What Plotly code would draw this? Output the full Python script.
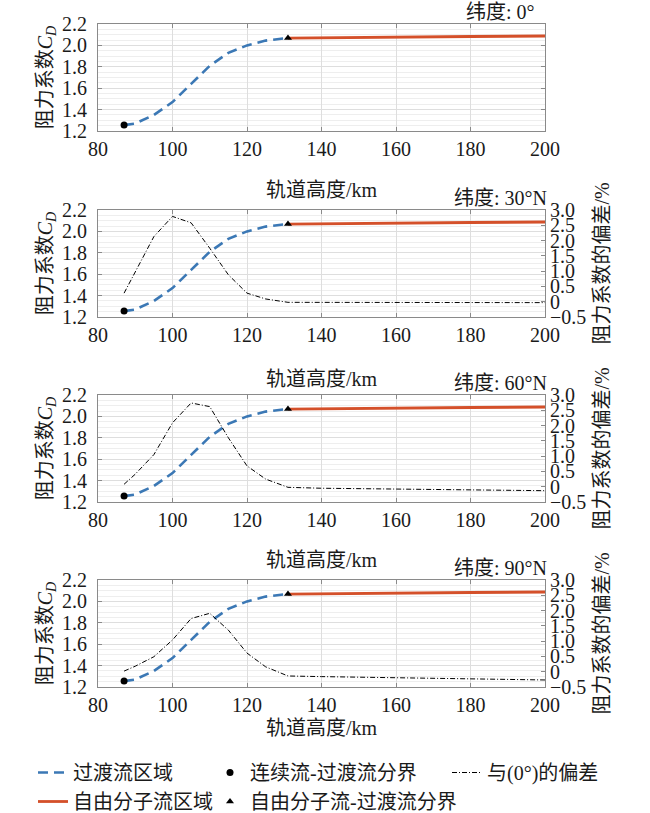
import plotly.graph_objects as go

# altitude grid (km) and drag coefficient
alt_trans = [87, 90, 95, 100, 105, 110, 115, 120, 125, 131]
cd_trans = [1.255, 1.27, 1.35, 1.47, 1.64, 1.81, 1.93, 2.00, 2.045, 2.07]

alt_free = [131, 140, 160, 180, 200]
cd_free = [2.068, 2.072, 2.078, 2.083, 2.088]

# boundary points
alt_cont_bound = [87]
cd_cont_bound = [1.255]
alt_free_bound = [131]
cd_free_bound = [2.07]

# deviation from 0 deg latitude (%)
alt_dev = [87, 90, 95, 100, 105, 110, 115, 120, 125, 131, 140, 160, 180, 200]
dev_30 = [0.28, 0.97, 2.13, 2.79, 2.58, 1.75, 0.88, 0.28, 0.09, -0.02, -0.02, -0.03, -0.03, -0.03]
dev_60 = [0.08, 0.41, 1.05, 2.09, 2.74, 2.62, 1.60, 0.68, 0.25, -0.02, -0.05, -0.08, -0.11, -0.13]
dev_90 = [0.02, 0.18, 0.49, 1.04, 1.74, 1.91, 1.36, 0.61, 0.16, -0.14, -0.16, -0.20, -0.24, -0.27]

lat_labels = ["纬度: 0°", "纬度: 30°N", "纬度: 60°N", "纬度: 90°N"]
devs = [None, dev_30, dev_60, dev_90]

x_ticks = [80, 100, 120, 140, 160, 180, 200]
right_ticks = [-0.5, 0, 0.5, 1.0, 1.5, 2.0, 2.5, 3.0]
right_ticktext = ["\u22120.5", "0", "0.5", "1.0", "1.5", "2.0", "2.5", "3.0"]

W, H = 650, 813
# plot area in pixels
PL, PR, PT, PB = 98, 545, 24, 687
panel_top = [24, 210, 395, 580]
panel_h = 107
xlabel_y = [190, 379, 560, 728]

FONT = "Liberation Serif, Noto Sans CJK SC, serif"
BLUE = "#3b78b5"
RED = "#d4502a"
AXC = "#8a8a8a"


def fx(p):
    return (p - PL) / (PR - PL)


def fy(p):
    return (PB - p) / (PB - PT)


fig = go.Figure()
layout = {}
annotations = []

for k in range(4):
    n = k + 1
    xs = "" if n == 1 else str(n)
    dom_y = [fy(panel_top[k] + panel_h), fy(panel_top[k])]

    fig.add_trace(go.Scatter(x=alt_trans, y=cd_trans, mode="lines", xaxis="x" + xs, yaxis="y" + xs,
                             line=dict(color=BLUE, width=2.6, dash="10px,6px"),
                             name="过渡流区域", legend="legend", showlegend=(k == 0)))
    fig.add_trace(go.Scatter(x=alt_free, y=cd_free, mode="lines", xaxis="x" + xs, yaxis="y" + xs,
                             line=dict(color=RED, width=2.8),
                             name="自由分子流区域", legend="legend", showlegend=(k == 0)))
    fig.add_trace(go.Scatter(x=alt_cont_bound, y=cd_cont_bound, mode="markers", xaxis="x" + xs, yaxis="y" + xs,
                             marker=dict(color="black", size=7, symbol="circle"),
                             name="连续流-过渡流分界", legend="legend2", showlegend=(k == 0)))
    fig.add_trace(go.Scatter(x=alt_free_bound, y=cd_free_bound, mode="markers", xaxis="x" + xs, yaxis="y" + xs,
                             marker=dict(color="black", size=7, symbol="triangle-up"),
                             name="自由分子流-过渡流分界", legend="legend2", showlegend=(k == 0)))

    layout["xaxis" + xs] = dict(domain=[0, 1], anchor="y" + xs, range=[80, 200],
                                tickvals=x_ticks, ticks="inside", ticklen=4, tickcolor=AXC,
                                showline=True, linecolor=AXC, linewidth=1, mirror="ticks",
                                showgrid=True, gridcolor="#dedede", zeroline=False,
                                automargin=False, tickfont=dict(size=20, family=FONT))
    layout["yaxis" + xs] = dict(domain=dom_y, anchor="x" + xs, range=[1.2, 2.2], dtick=0.2,
                                tickformat=".1f", ticks="inside", ticklen=4, tickcolor=AXC,
                                showline=True, linecolor=AXC, linewidth=1,
                                mirror="ticks" if k == 0 else False,
                                showgrid=True, gridcolor="#dedede", zeroline=False,
                                minor=dict(dtick=0.05, showgrid=True, gridcolor="#eeeeee", ticks=""),
                                ticklabelstandoff=6, automargin=False,
                                title=dict(text="阻力系数<i>C<sub>D</sub></i>", standoff=4,
                                           font=dict(size=20, family=FONT)),
                                tickfont=dict(size=20, family=FONT))

    if devs[k] is not None:
        ry = "y" + str(n + 3)
        fig.add_trace(go.Scatter(x=alt_dev, y=devs[k], mode="lines", xaxis="x" + xs, yaxis=ry,
                                 line=dict(color="black", width=1, dash="5px,2px,1px,2px"),
                                 name="与(0°)的偏差", legend="legend3", showlegend=(k == 1)))
        layout["yaxis" + str(n + 3)] = dict(overlaying="y" + xs, side="right", anchor="x" + xs,
                                            range=[-0.5, 3.0], tickvals=right_ticks, ticktext=right_ticktext,
                                            ticks="inside", ticklen=4, tickcolor=AXC,
                                            showline=True, linecolor=AXC, linewidth=1,
                                            showgrid=False, zeroline=False, automargin=False,
                                            title=dict(text="阻力系数的偏差/%", standoff=9,
                                                       font=dict(size=20, family=FONT)),
                                            tickfont=dict(size=20, family=FONT))

    annotations.append(dict(text=lat_labels[k], x=fx(500), y=fy(panel_top[k] - 12),
                            xref="paper", yref="paper", xanchor="center", yanchor="middle",
                            showarrow=False, font=dict(size=20, family=FONT)))
    annotations.append(dict(text="轨道高度/km", x=fx((PL + PR) / 2), y=fy(xlabel_y[k]),
                            xref="paper", yref="paper", xanchor="center", yanchor="middle",
                            showarrow=False, font=dict(size=20, family=FONT)))

leg_common = dict(orientation="v", bgcolor="rgba(0,0,0,0)", font=dict(size=20, family=FONT),
                  yanchor="top", xanchor="left", tracegroupgap=0)
fig.update_layout(
    width=W, height=H,
    margin=dict(l=PL, r=W - PR, t=PT, b=H - PB, autoexpand=False),
    plot_bgcolor="white", paper_bgcolor="white",
    font=dict(family=FONT, size=20, color="#1a1a1a"),
    annotations=annotations,
    legend=dict(x=fx(33), y=fy(753), **leg_common),
    legend2=dict(x=fx(210), y=fy(753), **leg_common),
    legend3=dict(x=fx(447), y=fy(753), **leg_common),
    **layout,
)

# page body has a default 8px margin; drop it so the figure sits at the window corner
fig.write_html("out.html", config={"displayModeBar": False},
               post_script="document.body.style.margin = '0';")
